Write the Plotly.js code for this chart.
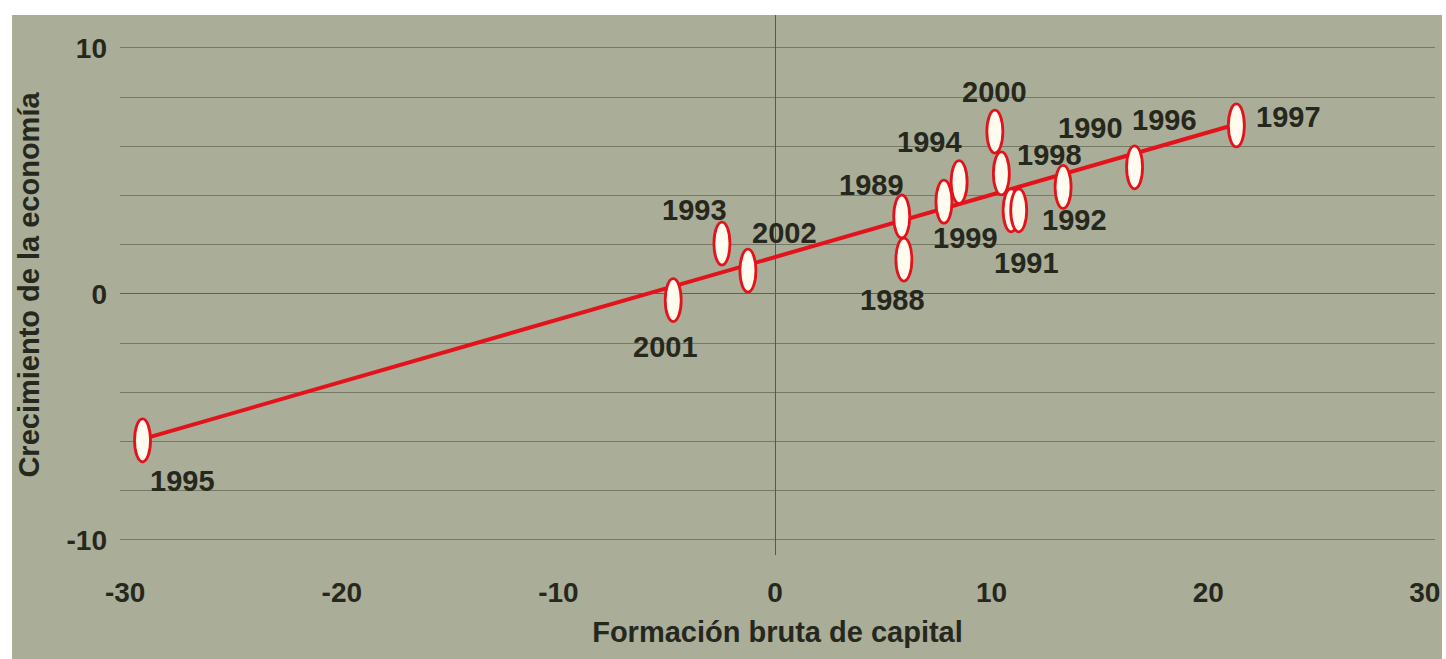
<!DOCTYPE html>
<html>
<head>
<meta charset="utf-8">
<script src="https://cdn.plot.ly/plotly-3.0.1.min.js"></script>
<style>
  html, body { margin: 0; padding: 0; background: #ffffff; }
  #chart { width: 1446px; height: 659px; }
</style>
</head>
<body>
<div id="chart"></div>
<script>
// ---- Data ----
const years = ["1995", "2001", "2002", "1993", "1988", "1989", "1999", "1994", "2000", "1998", "1991", "1990", "1992", "1996", "1997"];
const capital = [-29.2, -4.7, -1.25, -2.45, 5.95, 5.85, 7.8, 8.5, 10.15, 10.45, 10.9, 11.25, 13.3, 16.6, 21.3];
const growth = [-5.95, -0.25, 0.95, 2.05, 1.4, 3.15, 3.75, 4.55, 6.6, 4.9, 3.4, 3.4, 4.35, 5.15, 6.85];

// regression line endpoints as drawn in the picture
const trendX = [-29.2, 21.3];
const trendY = [-5.9, 6.9];

const xTickVals = [-30, -20, -10, 0, 10, 20, 30];
const xTickText = ["-30", "-20", "-10", "0", "10", "20", "30"];
const yTickVals = [-10, 0, 10];
const yTickText = ["-10", "0", "10"];

const xTitle = "Formación bruta de capital";
const yTitle = "Crecimiento de la economía";

// ---- Label placement (pixel shifts from each point: [right, up]) ----
const labelShift = {
  "1995": [40, -41], "2001": [-8, -47], "2002": [37, 38], "1993": [-27, 34],
  "1988": [-11, -40], "1989": [-30, 31], "1999": [22, -36], "1994": [-30, 40],
  "2000": [0, 40], "1998": [48, 18], "1991": [15, -53], "1990": [72, 82],
  "1992": [11, -33], "1996": [30, 47], "1997": [52, 8]
};

// ---- Styles ----
const FONT = "Liberation Sans, Arial, Helvetica, sans-serif";
const TXT = "#26281e";
const RED = "#e3131b";
const BG = "#aaad98";
const GRID = "#767965";

const shapes = [
  { type: "rect", xref: "paper", yref: "paper", x0: -0.0821, x1: 1.0053, y0: -0.25, y1: 1.0,
    fillcolor: BG, line: { width: 0 }, layer: "below" }
];
years.forEach((yr, i) => {
  shapes.push({
    type: "circle", layer: "above",
    xref: "x", yref: "y",
    xsizemode: "pixel", ysizemode: "pixel",
    xanchor: capital[i], yanchor: growth[i],
    x0: -8, x1: 8, y0: -21.5, y1: 21.5,
    fillcolor: "#fffbee", line: { color: RED, width: 2.8 }
  });
});

const annotations = years.map((yr, i) => ({
  x: capital[i], y: growth[i], xref: "x", yref: "y",
  text: yr, showarrow: false,
  xshift: labelShift[yr][0], yshift: labelShift[yr][1],
  font: { family: FONT, size: 29, color: TXT, weight: 700 }
}));

const traces = [
  { x: trendX, y: trendY, type: "scatter", mode: "lines",
    line: { color: RED, width: 4 }, hoverinfo: "skip", showlegend: false },
  { x: capital, y: growth, text: years, type: "scatter", mode: "markers",
    marker: { size: 1, color: "rgba(0,0,0,0)" }, showlegend: false,
    hovertemplate: "%{text}: %{x}, %{y}<extra></extra>" }
];

const layout = {
  width: 1446, height: 659,
  margin: { l: 120, r: 11, t: 15, b: 104 },
  paper_bgcolor: "#ffffff",
  plot_bgcolor: "rgba(0,0,0,0)",
  showlegend: false,
  font: { family: FONT, color: TXT },
  xaxis: {
    range: [-30.24, 30.47],
    tickmode: "array", tickvals: xTickVals, ticktext: xTickText,
    showgrid: false, zeroline: true, zerolinecolor: "#55584a", zerolinewidth: 1.3,
    showline: false, ticks: "", ticklabelstandoff: 18,
    tickfont: { family: FONT, size: 28, color: TXT, weight: 700 },
    title: { text: xTitle, standoff: 14, font: { family: FONT, size: 29, color: TXT, weight: 700 } }
  },
  yaxis: {
    range: [-10.61, 11.34],
    tickmode: "array", tickvals: yTickVals, ticktext: yTickText,
    showgrid: true, gridcolor: GRID, gridwidth: 1.2,
    minor: { tickmode: "linear", tick0: 0, dtick: 2, showgrid: true, gridcolor: GRID, gridwidth: 1.2, ticks: "" },
    zeroline: true, zerolinecolor: "#5f6250", zerolinewidth: 1.3,
    showline: false, ticks: "", ticklabelstandoff: 12,
    tickfont: { family: FONT, size: 28, color: TXT, weight: 700 },
    title: { text: yTitle, standoff: 18, font: { family: FONT, size: 29, color: TXT, weight: 700 } }
  },
  shapes: shapes,
  annotations: annotations
};

Plotly.newPlot("chart", traces, layout, { displayModeBar: false, staticPlot: false });
</script>
</body>
</html>
